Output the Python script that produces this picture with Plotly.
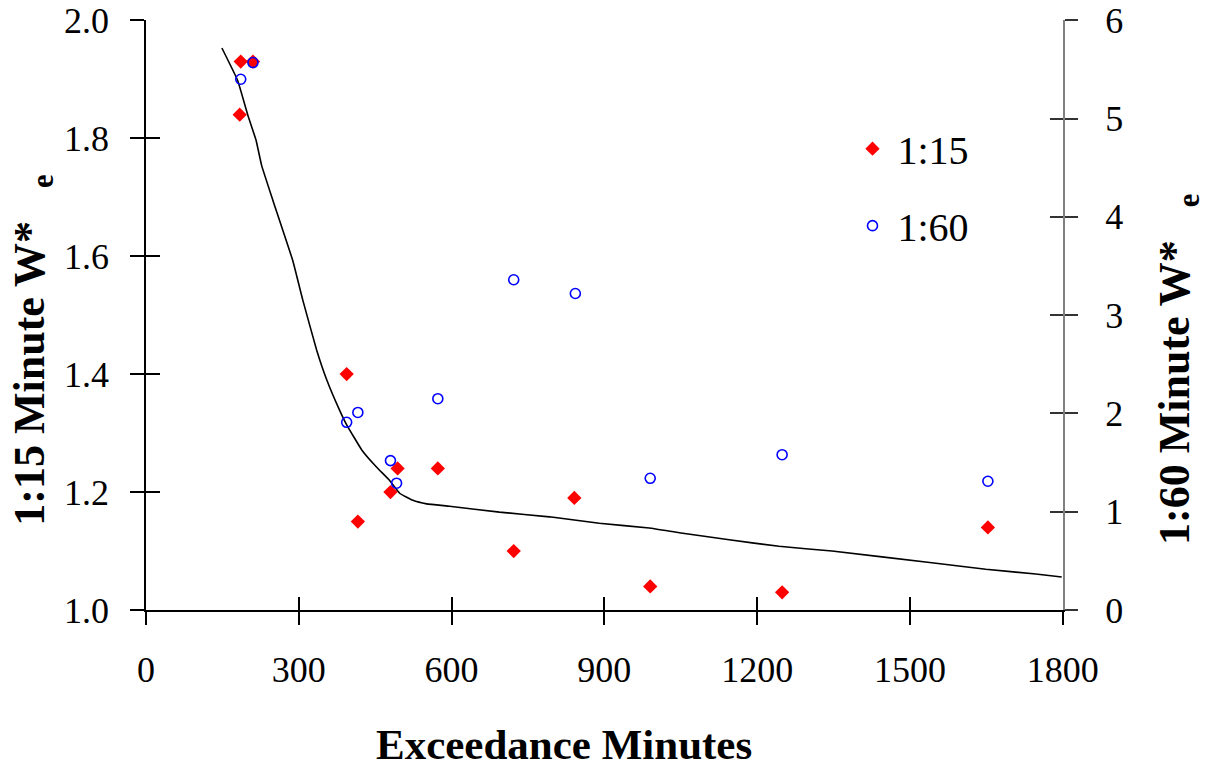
import plotly.graph_objects as go

# ---- data ----
x_115 = [186, 210, 184, 394, 416, 480, 494, 573, 722, 841, 990, 1249, 1653]
y_115 = [1.93, 1.93, 1.84, 1.40, 1.15, 1.20, 1.24, 1.24, 1.10, 1.19, 1.04, 1.03, 1.14]

x_160 = [186, 210, 394, 416, 480, 492, 573, 722, 843, 990, 1249, 1653]
y_160 = [5.40, 5.57, 1.91, 2.01, 1.52, 1.29, 2.15, 3.36, 3.22, 1.34, 1.58, 1.31]

x_fit = [149, 180, 200, 216, 227, 249, 288, 308, 335, 355, 380, 394, 424, 453, 478, 498,
         524, 551, 596, 694, 792, 890, 988, 1047, 1145, 1243, 1347, 1543, 1649, 1747, 1798]
y_fit = [1.953, 1.898, 1.839, 1.797, 1.754, 1.695, 1.593, 1.525, 1.441, 1.390, 1.339,
         1.314, 1.271, 1.242, 1.220, 1.198, 1.186, 1.180, 1.176, 1.166, 1.158, 1.147,
         1.139, 1.131, 1.119, 1.108, 1.100, 1.080, 1.069, 1.061, 1.056]

x_ticks = [0, 300, 600, 900, 1200, 1500, 1800]
y1_ticks = [1.0, 1.2, 1.4, 1.6, 1.8, 2.0]
y2_ticks = [0, 1, 2, 3, 4, 5, 6]

FONT = "Liberation Serif, Times New Roman, serif"
TICKFONT = dict(family=FONT, size=36, color="black")

fig = go.Figure()

fig.add_trace(go.Scatter(x=x_fit, y=y_fit, mode="lines",
                         line=dict(color="black", width=1.6, shape="spline", smoothing=0.3),
                         showlegend=False, hoverinfo="skip"))
fig.add_trace(go.Scatter(x=x_115, y=y_115, mode="markers", name="1:15",
                         legendgroup="a",
                         marker=dict(symbol="diamond", size=11, color="#FF0000",
                                     line=dict(width=0))))
fig.add_trace(go.Scatter(x=x_160, y=y_160, mode="markers", name="1:60", yaxis="y2",
                         legendgroup="b",
                         marker=dict(symbol="circle-open", size=10, color="#0000FF",
                                     line=dict(width=1.6, color="#0000FF"))))
# helper empty traces so inside-tick overlay axes are drawn
fig.add_trace(go.Scatter(x=[], y=[], xaxis="x2", yaxis="y3", showlegend=False))
fig.add_trace(go.Scatter(x=[], y=[], xaxis="x2", yaxis="y4", showlegend=False))

Y1R = [1.0, 2.0005]
Y2R = [0, 6.003]

fig.update_layout(
    width=1206, height=767,
    margin=dict(l=146, r=143, t=20, b=157, autoexpand=False),
    paper_bgcolor="white", plot_bgcolor="white",
    font=dict(family=FONT, color="black"),
    showlegend=True,
    legend=dict(x=0.765, y=0.837, xanchor="left", yanchor="top",
                font=dict(family=FONT, size=40, color="black"),
                bgcolor="rgba(0,0,0,0)", tracegroupgap=22, itemwidth=40),
    xaxis=dict(range=[0, 1800.5], tickvals=x_ticks, ticks="outside", ticklen=13,
               tickwidth=1.5, tickcolor="black", showline=True, linecolor="black",
               linewidth=1.5, showgrid=False, zeroline=False, tickfont=TICKFONT,
               ticklabelstandoff=14, automargin=False),
    xaxis2=dict(range=[0, 1800.5], tickvals=x_ticks, ticks="inside", ticklen=13,
                tickwidth=1.5, tickcolor="black", overlaying="x", anchor="y",
                side="bottom", showticklabels=False, showline=False, showgrid=False,
                zeroline=False, automargin=False),
    yaxis=dict(range=Y1R, tickvals=y1_ticks, tickformat=".1f", ticks="outside",
               ticklen=14, tickwidth=1.5, tickcolor="black", showline=True,
               linecolor="black", linewidth=1.5, showgrid=False, zeroline=False,
               tickfont=TICKFONT, ticklabelstandoff=14, automargin=False),
    yaxis2=dict(range=Y2R, tickvals=y2_ticks, ticks="outside", ticklen=13,
                tickwidth=1.5, tickcolor="#333333", overlaying="y", side="right",
                showline=True, linecolor="#808080", linewidth=2, showgrid=False,
                zeroline=False, tickfont=TICKFONT, ticklabelstandoff=20,
                automargin=False),
    yaxis3=dict(range=Y1R, tickvals=y1_ticks, ticks="inside", ticklen=14,
                tickwidth=1.5, tickcolor="black", overlaying="y", side="left",
                anchor="x", showticklabels=False, showline=False, showgrid=False,
                zeroline=False, automargin=False),
    yaxis4=dict(range=Y2R, tickvals=y2_ticks, ticks="inside", ticklen=13,
                tickwidth=1.5, tickcolor="#333333", overlaying="y", side="right",
                anchor="x", showticklabels=False, showline=False, showgrid=False,
                zeroline=False, automargin=False),
)

TITLEFONT = dict(family=FONT, size=44, color="black")
sp = "\u00a0\u00a0\u00a0"
fig.add_annotation(text="<b>Exceedance Minutes</b>", xref="paper", yref="paper",
                   x=0.456, y=-0.228, xanchor="center", yanchor="middle",
                   showarrow=False, borderpad=0,
                   font=dict(family=FONT, size=43, color="black"))
fig.add_annotation(text="<b>1:15 Minute W*" + sp + "<sub>e</sub></b>", xref="paper",
                   yref="paper", x=-0.124, y=0.44, xanchor="center", yanchor="middle",
                   textangle=-90, showarrow=False, borderpad=0, font=TITLEFONT)
fig.add_annotation(text="<b>1:60 Minute W*" + sp + "<sub>e</sub></b>", xref="paper",
                   yref="paper", x=1.125, y=0.408, xanchor="center", yanchor="middle",
                   textangle=-90, showarrow=False, borderpad=0, font=TITLEFONT)

fig.write_html("out.html", config={"displayModeBar": False},
               post_script="document.body.style.margin='0px';")
